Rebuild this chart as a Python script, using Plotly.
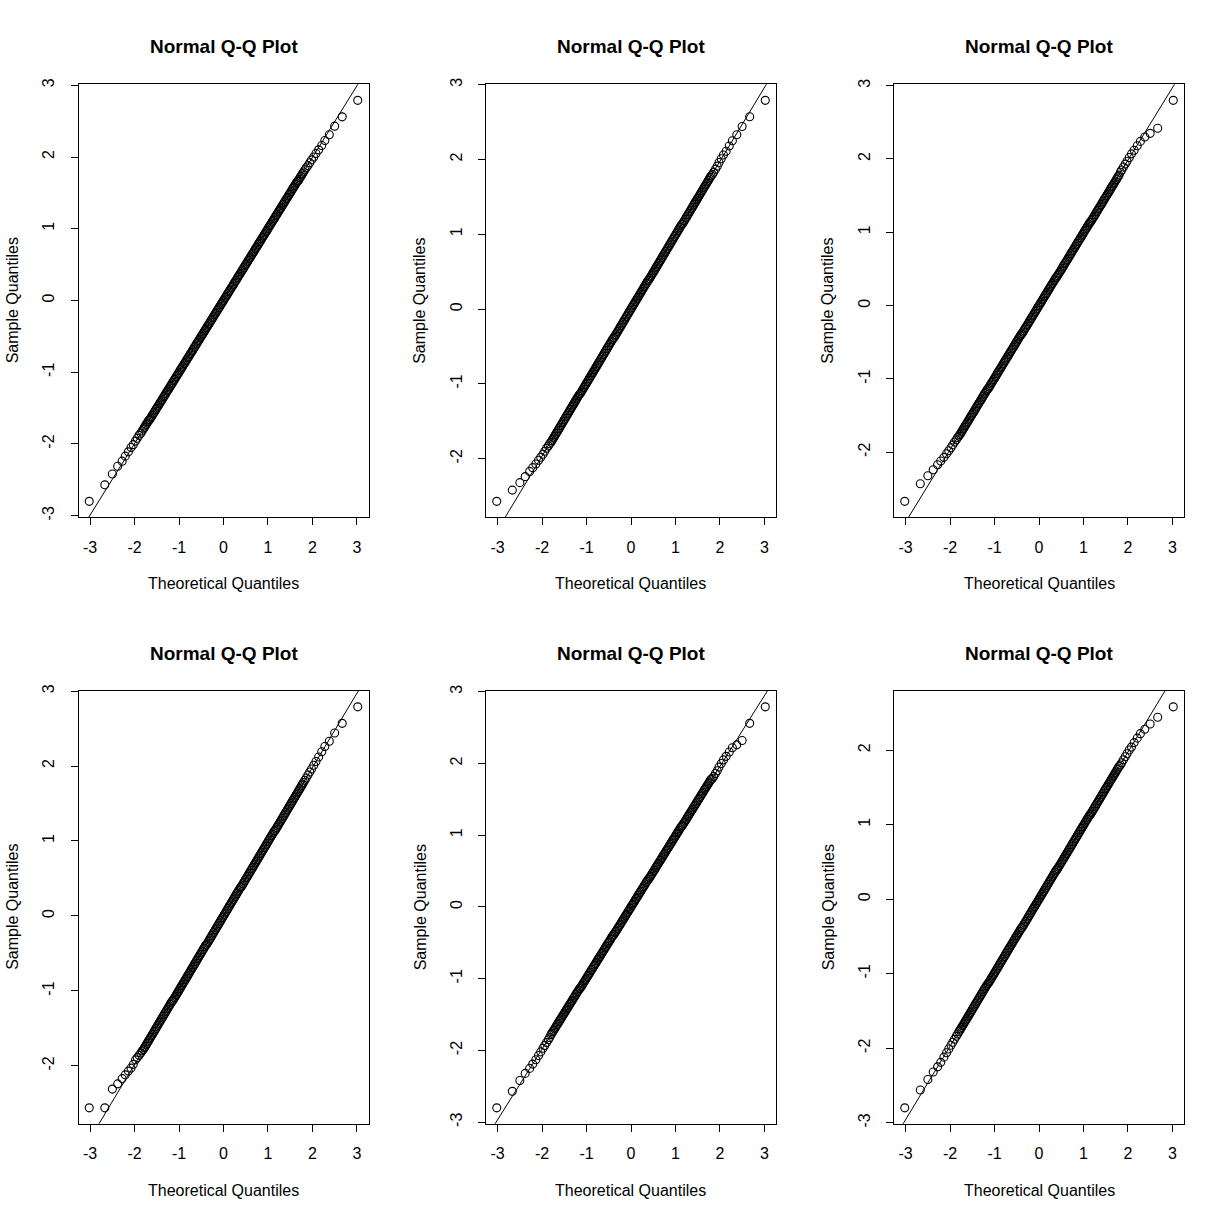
import plotly.graph_objects as go

# ---------------- data ----------------
theoretical_low = [-3.02, -2.67, -2.50, -2.38, -2.28, -2.21, -2.14, -2.08, -2.03, -1.98, -1.94, -1.90, -1.86, -1.83]
theoretical_mid = [
    -1.80, -1.78, -1.76, -1.74, -1.72, -1.70, -1.68, -1.66, -1.64, -1.62,
    -1.60, -1.58, -1.56, -1.54, -1.52, -1.50, -1.48, -1.46, -1.44, -1.42,
    -1.40, -1.38, -1.36, -1.34, -1.32, -1.30, -1.28, -1.26, -1.24, -1.22,
    -1.20, -1.18, -1.16, -1.14, -1.12, -1.10, -1.08, -1.06, -1.04, -1.02,
    -1.00, -0.98, -0.96, -0.94, -0.92, -0.90, -0.88, -0.86, -0.84, -0.82,
    -0.80, -0.78, -0.76, -0.74, -0.72, -0.70, -0.68, -0.66, -0.64, -0.62,
    -0.60, -0.58, -0.56, -0.54, -0.52, -0.50, -0.48, -0.46, -0.44, -0.42,
    -0.40, -0.38, -0.36, -0.34, -0.32, -0.30, -0.28, -0.26, -0.24, -0.22,
    -0.20, -0.18, -0.16, -0.14, -0.12, -0.10, -0.08, -0.06, -0.04, -0.02,
    0.00,
    0.02, 0.04, 0.06, 0.08, 0.10, 0.12, 0.14, 0.16, 0.18, 0.20,
    0.22, 0.24, 0.26, 0.28, 0.30, 0.32, 0.34, 0.36, 0.38, 0.40,
    0.42, 0.44, 0.46, 0.48, 0.50, 0.52, 0.54, 0.56, 0.58, 0.60,
    0.62, 0.64, 0.66, 0.68, 0.70, 0.72, 0.74, 0.76, 0.78, 0.80,
    0.82, 0.84, 0.86, 0.88, 0.90, 0.92, 0.94, 0.96, 0.98, 1.00,
    1.02, 1.04, 1.06, 1.08, 1.10, 1.12, 1.14, 1.16, 1.18, 1.20,
    1.22, 1.24, 1.26, 1.28, 1.30, 1.32, 1.34, 1.36, 1.38, 1.40,
    1.42, 1.44, 1.46, 1.48, 1.50, 1.52, 1.54, 1.56, 1.58, 1.60,
    1.62, 1.64, 1.66, 1.68, 1.70, 1.72, 1.74, 1.76, 1.78, 1.80,
]
theoretical_high = [1.83, 1.86, 1.90, 1.94, 1.98, 2.03, 2.08, 2.14, 2.21, 2.28, 2.38, 2.50, 2.67, 3.02]

# sample quantiles of the dense middle run (read along the band)
sample_mid_a = [
    -1.79, -1.77, -1.75, -1.73, -1.71, -1.69, -1.67, -1.66, -1.64, -1.62,
    -1.60, -1.58, -1.56, -1.54, -1.52, -1.50, -1.48, -1.46, -1.44, -1.42,
    -1.40, -1.38, -1.36, -1.34, -1.32, -1.30, -1.28, -1.26, -1.24, -1.22,
    -1.20, -1.18, -1.16, -1.14, -1.12, -1.10, -1.08, -1.06, -1.04, -1.02,
    -1.00, -0.98, -0.96, -0.94, -0.92, -0.90, -0.88, -0.86, -0.84, -0.82,
    -0.80, -0.78, -0.76, -0.74, -0.72, -0.70, -0.68, -0.66, -0.64, -0.62,
    -0.60, -0.58, -0.56, -0.54, -0.52, -0.50, -0.48, -0.46, -0.44, -0.42,
    -0.40, -0.38, -0.36, -0.34, -0.32, -0.30, -0.28, -0.26, -0.24, -0.22,
    -0.20, -0.18, -0.16, -0.14, -0.12, -0.10, -0.08, -0.06, -0.04, -0.02,
    0.00,
    0.02, 0.04, 0.06, 0.08, 0.10, 0.12, 0.14, 0.16, 0.18, 0.20,
    0.22, 0.24, 0.26, 0.28, 0.30, 0.32, 0.34, 0.36, 0.38, 0.40,
    0.42, 0.44, 0.46, 0.48, 0.50, 0.52, 0.54, 0.56, 0.58, 0.60,
    0.62, 0.64, 0.66, 0.68, 0.70, 0.72, 0.74, 0.76, 0.78, 0.80,
    0.82, 0.84, 0.86, 0.88, 0.90, 0.92, 0.94, 0.96, 0.98, 1.00,
    1.02, 1.04, 1.06, 1.08, 1.10, 1.12, 1.14, 1.16, 1.18, 1.20,
    1.22, 1.24, 1.26, 1.28, 1.30, 1.32, 1.34, 1.36, 1.38, 1.40,
    1.42, 1.44, 1.46, 1.48, 1.50, 1.52, 1.54, 1.56, 1.58, 1.60,
    1.62, 1.64, 1.66, 1.67, 1.69, 1.71, 1.73, 1.75, 1.77, 1.79,
]
sample_mid_b = [
    -1.78, -1.76, -1.74, -1.72, -1.70, -1.68, -1.66, -1.64, -1.62, -1.60,
    -1.58, -1.56, -1.54, -1.52, -1.50, -1.48, -1.46, -1.44, -1.42, -1.40,
    -1.38, -1.36, -1.34, -1.32, -1.30, -1.28, -1.26, -1.24, -1.22, -1.20,
    -1.18, -1.16, -1.14, -1.13, -1.11, -1.09, -1.07, -1.05, -1.03, -1.01,
    -0.99, -0.97, -0.95, -0.93, -0.91, -0.89, -0.87, -0.85, -0.83, -0.81,
    -0.79, -0.77, -0.75, -0.73, -0.71, -0.69, -0.67, -0.65, -0.63, -0.61,
    -0.59, -0.57, -0.55, -0.53, -0.51, -0.49, -0.47, -0.45, -0.43, -0.41,
    -0.39, -0.38, -0.36, -0.34, -0.32, -0.30, -0.28, -0.26, -0.24, -0.22,
    -0.20, -0.18, -0.16, -0.14, -0.12, -0.10, -0.08, -0.06, -0.04, -0.02,
    0.00,
    0.02, 0.04, 0.06, 0.08, 0.10, 0.12, 0.14, 0.16, 0.18, 0.20,
    0.22, 0.24, 0.26, 0.28, 0.30, 0.32, 0.34, 0.36, 0.38, 0.39,
    0.41, 0.43, 0.45, 0.47, 0.49, 0.51, 0.53, 0.55, 0.57, 0.59,
    0.61, 0.63, 0.65, 0.67, 0.69, 0.71, 0.73, 0.75, 0.77, 0.79,
    0.81, 0.83, 0.85, 0.87, 0.89, 0.91, 0.93, 0.95, 0.97, 0.99,
    1.01, 1.03, 1.05, 1.07, 1.09, 1.11, 1.13, 1.14, 1.16, 1.18,
    1.20, 1.22, 1.24, 1.26, 1.28, 1.30, 1.32, 1.34, 1.36, 1.38,
    1.40, 1.42, 1.44, 1.46, 1.48, 1.50, 1.52, 1.54, 1.56, 1.58,
    1.60, 1.62, 1.64, 1.66, 1.68, 1.70, 1.72, 1.74, 1.76, 1.78,
]

# individually visible tail points, per panel
p1_low = [-2.80, -2.57, -2.42, -2.31, -2.24, -2.17, -2.11, -2.05, -2.01, -1.96, -1.92, -1.88, -1.85, -1.82]
p1_high = [1.82, 1.85, 1.88, 1.92, 1.96, 2.00, 2.05, 2.10, 2.16, 2.23, 2.31, 2.43, 2.56, 2.79]
p2_low = [-2.57, -2.42, -2.32, -2.24, -2.17, -2.12, -2.07, -2.02, -1.98, -1.94, -1.90, -1.86, -1.83, -1.80]
p2_high = [1.80, 1.83, 1.87, 1.91, 1.96, 2.01, 2.06, 2.11, 2.18, 2.25, 2.33, 2.44, 2.57, 2.79]
p3_low = [-2.67, -2.43, -2.32, -2.24, -2.17, -2.12, -2.07, -2.02, -1.98, -1.94, -1.90, -1.86, -1.83, -1.80]
p3_high = [1.82, 1.85, 1.89, 1.93, 1.97, 2.02, 2.07, 2.12, 2.18, 2.24, 2.30, 2.35, 2.42, 2.80]
p4_low = [-2.56, -2.56, -2.31, -2.24, -2.17, -2.12, -2.07, -2.03, -1.98, -1.92, -1.89, -1.86, -1.83, -1.80]
p4_high = [1.81, 1.84, 1.88, 1.92, 1.96, 2.01, 2.06, 2.12, 2.19, 2.26, 2.33, 2.44, 2.57, 2.79]
p5_low = [-2.80, -2.57, -2.42, -2.32, -2.25, -2.19, -2.13, -2.07, -2.02, -1.97, -1.93, -1.89, -1.85, -1.82]
p5_high = [1.79, 1.82, 1.86, 1.90, 1.95, 2.00, 2.05, 2.10, 2.16, 2.22, 2.26, 2.32, 2.56, 2.79]
p6_low = [-2.80, -2.56, -2.42, -2.32, -2.25, -2.19, -2.12, -2.06, -2.01, -1.96, -1.92, -1.88, -1.84, -1.81]
p6_high = [1.80, 1.83, 1.87, 1.91, 1.95, 2.00, 2.04, 2.10, 2.16, 2.22, 2.28, 2.35, 2.44, 2.58]

# reference lines (qqline) slope / intercept
qq_slope = [0.997, 0.985, 0.987, 0.990, 0.985, 0.986]
qq_intercept = [0.0, 0.005, 0.01, 0.0, -0.01, 0.0]

tick_values = [-3, -2, -1, 0, 1, 2, 3]
tick_labels = ["-3", "-2", "-1", "0", "1", "2", "3"]

plot_title = "Normal Q-Q Plot"
x_title = "Theoretical Quantiles"
y_title = "Sample Quantiles"

# ---------------- build ----------------
W = H = 1224.0  # reference canvas, used to turn pixel positions into fractions
FONT = "Liberation Sans, Arial, Helvetica, sans-serif"

panels = [
    (p1_low, sample_mid_a, p1_high),
    (p2_low, sample_mid_b, p2_high),
    (p3_low, sample_mid_b, p3_high),
    (p4_low, sample_mid_b, p4_high),
    (p5_low, sample_mid_b, p5_high),
    (p6_low, sample_mid_b, p6_high),
]

col_px = [(78.5, 368.5), (486.0, 776.0), (894.0, 1184.0)]
row_px = [(78.0, 515.0), (690.0, 1127.0)]

theoretical = theoretical_low + theoretical_mid + theoretical_high

fig = go.Figure()
layout = dict(
    autosize=True,
    margin=dict(l=0, r=0, t=0, b=0, pad=0),
    paper_bgcolor="white", plot_bgcolor="white",
    showlegend=False,
    font=dict(family=FONT, size=16, color="black"),
)
annotations = []

for i, (lo, mid, hi) in enumerate(panels):
    r, c = divmod(i, 3)
    sample = lo + mid + hi
    ax = "" if i == 0 else str(i + 1)
    xa, ya = "x" + ax, "y" + ax

    fig.add_trace(go.Scatter(
        x=theoretical, y=sample, mode="markers", xaxis=xa, yaxis=ya,
        marker=dict(symbol="circle-open", size=8, color="black",
                    line=dict(width=1.1, color="black")),
        hoverinfo="skip",
    ))

    # ranges like R: data range extended by 4 %
    xmin, xmax = min(theoretical), max(theoretical)
    ymin, ymax = min(sample), max(sample)
    xpad = 0.04 * (xmax - xmin)
    ypad = 0.04 * (ymax - ymin)
    xr = [xmin - xpad, xmax + xpad]
    yr = [ymin - ypad, ymax + ypad]

    # qqline across the plotting region (clipped by the axes)
    lx = [xr[0] - 1, xr[1] + 1]
    ly = [qq_intercept[i] + qq_slope[i] * v for v in lx]
    fig.add_trace(go.Scatter(
        x=lx, y=ly, mode="lines", xaxis=xa, yaxis=ya,
        line=dict(color="black", width=1), hoverinfo="skip",
    ))

    x0, x1 = col_px[c]
    y0, y1 = row_px[r]
    xdom = [x0 / W, x1 / W]
    ydom = [1 - y1 / H, 1 - y0 / H]
    common = dict(
        showline=True, mirror=True, linecolor="black", linewidth=1,
        ticks="outside", ticklen=7, tickwidth=1, tickcolor="black",
        showgrid=False, zeroline=False,
        tickmode="array", tickvals=tick_values, ticktext=tick_labels,
        tickfont=dict(family=FONT, size=16, color="black"),
        fixedrange=True,
    )
    layout["xaxis" + ax] = dict(domain=xdom, range=xr, anchor=ya,
                                ticklabelstandoff=8, **common)
    layout["yaxis" + ax] = dict(domain=ydom, range=yr, anchor=xa, tickangle=-90,
                                ticklabelstandoff=10, **common)

    cx = (x0 + x1) / 2 / W
    annotations.append(dict(
        text="<b>" + plot_title + "</b>", x=cx, y=1 - (y0 - 38) / H,
        xref="paper", yref="paper", showarrow=False,
        xanchor="center", yanchor="middle",
        font=dict(family=FONT, size=19, color="black"),
    ))
    annotations.append(dict(
        text=x_title, x=cx, y=1 - (y1 + 67) / H,
        xref="paper", yref="paper", showarrow=False,
        xanchor="center", yanchor="middle",
        font=dict(family=FONT, size=16, color="black"),
    ))
    annotations.append(dict(
        text=y_title, x=(x0 - 66) / W, y=1 - (y0 + y1) / 2 / H,
        xref="paper", yref="paper", showarrow=False, textangle=-90,
        xanchor="center", yanchor="middle",
        font=dict(family=FONT, size=16, color="black"),
    ))

layout["annotations"] = annotations
fig.update_layout(**layout)

post = (
    "document.documentElement.style.margin='0';"
    "document.body.style.margin='0';"
    "document.body.style.overflow='hidden';"
    "var gd=document.getElementById('{plot_id}');"
    "gd.style.width='100vw';gd.style.height='100vh';"
    "Plotly.Plots.resize(gd);"
)
fig.write_html(
    "out.html",
    config={"displayModeBar": False, "responsive": True},
    default_width="100vw",
    default_height="100vh",
    post_script=post,
)
